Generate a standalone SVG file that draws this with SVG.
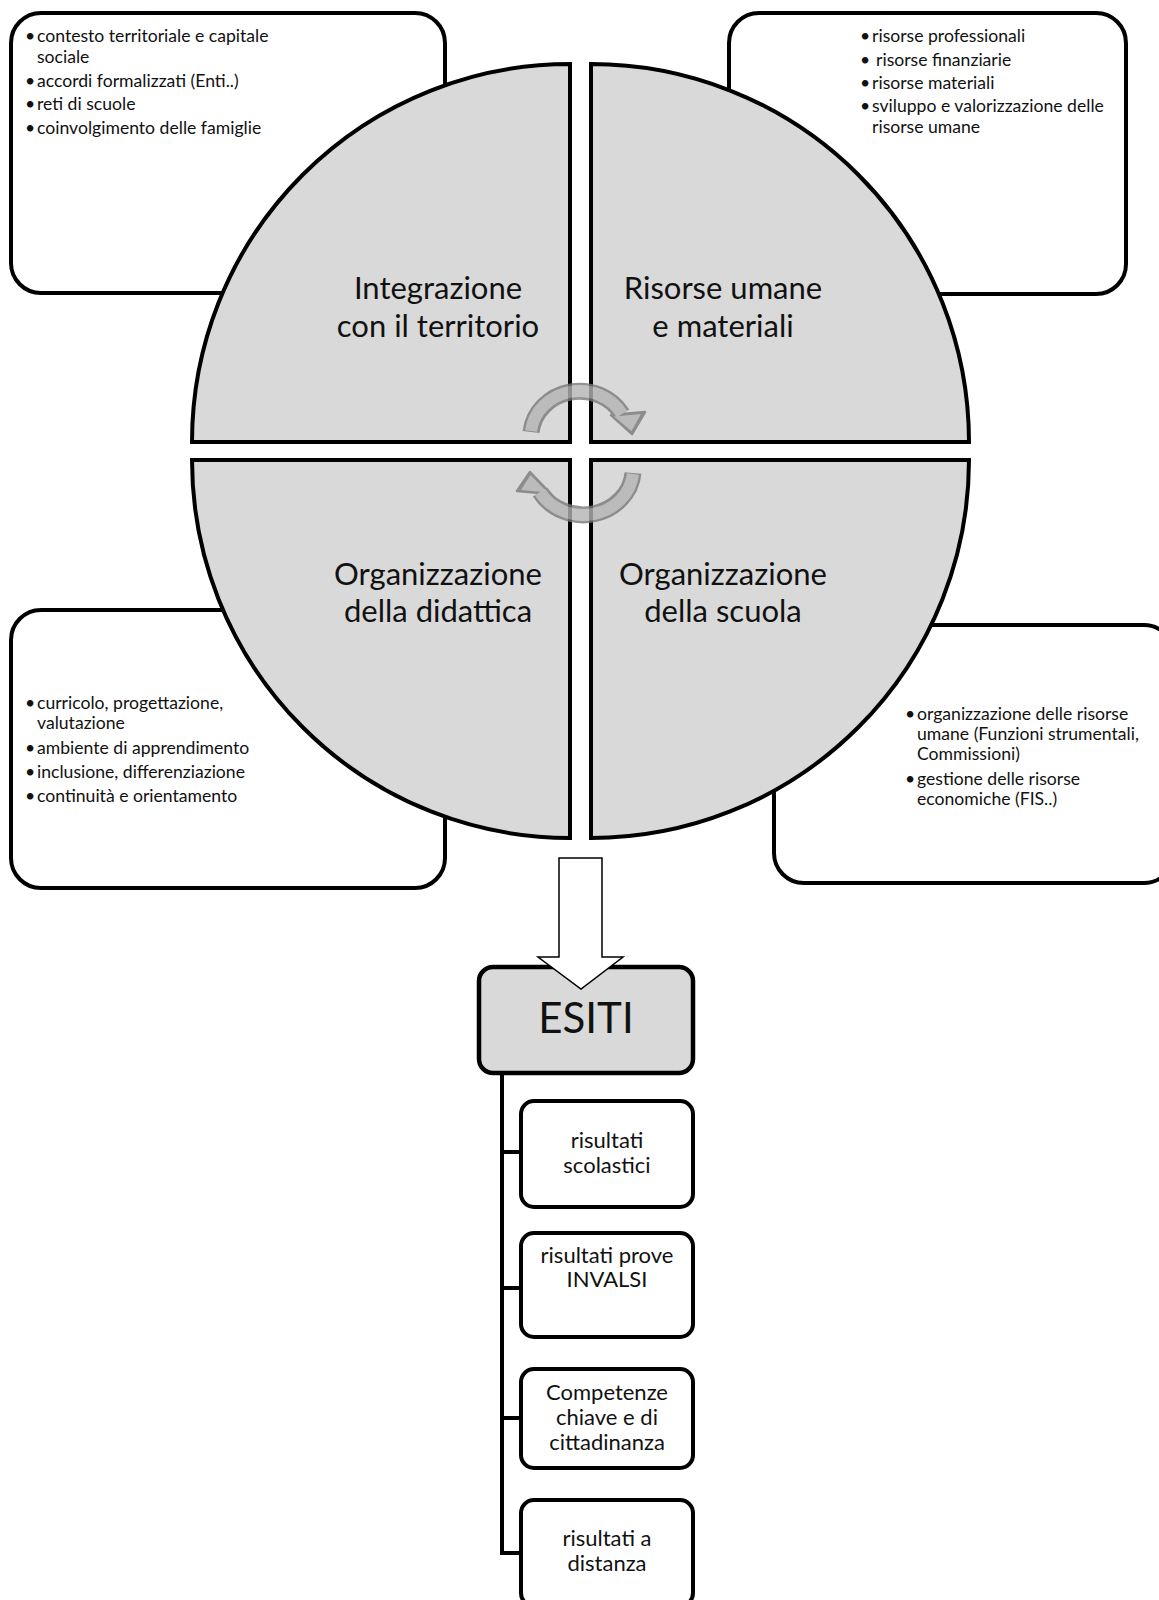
<svg xmlns="http://www.w3.org/2000/svg" width="1159" height="1600" viewBox="0 0 1159 1600">
<style>
.box{fill:#fff;stroke:#000;stroke-width:4}
.quad{fill:#d9d9d9;stroke:#000;stroke-width:4;stroke-linejoin:miter}
.bul{font-family:Lato,"Liberation Sans",sans-serif;font-size:17.6px;fill:#111}
.lab{font-family:Lato,"Liberation Sans",sans-serif;font-size:31px;fill:#111;text-anchor:middle}
.res{font-family:Lato,"Liberation Sans",sans-serif;font-size:22px;fill:#111;text-anchor:middle}
.rbox{fill:#fff;stroke:#000;stroke-width:4}
.conn{fill:none;stroke:#000;stroke-width:4}
</style>
<rect width="1159" height="1600" fill="#fff"/>

<g id="box-territorio">
<rect class="box" x="11" y="13" width="434" height="280" rx="30"/>
<text class="bul"><tspan x="25" y="42">•</tspan><tspan x="37" y="42">contesto territoriale e capitale</tspan><tspan x="37" y="62.5">sociale</tspan><tspan x="25" y="86.5">•</tspan><tspan x="37" y="86.5">accordi formalizzati (Enti..)</tspan><tspan x="25" y="110">•</tspan><tspan x="37" y="110">reti di scuole</tspan><tspan x="25" y="133.5">•</tspan><tspan x="37" y="133.5">coinvolgimento delle famiglie</tspan></text>
</g>

<g id="box-risorse">
<rect class="box" x="729" y="13" width="397" height="281" rx="30"/>
<text class="bul"><tspan x="860" y="42">•</tspan><tspan x="872" y="42">risorse professionali</tspan><tspan x="860" y="66">•</tspan><tspan x="876" y="66">risorse finanziarie</tspan><tspan x="860" y="88.5">•</tspan><tspan x="872" y="88.5">risorse materiali</tspan><tspan x="860" y="112">•</tspan><tspan x="872" y="112">sviluppo e valorizzazione delle</tspan><tspan x="872" y="132.5">risorse umane</tspan></text>
</g>

<g id="box-didattica">
<rect class="box" x="11" y="610" width="434" height="278" rx="30"/>
<text class="bul"><tspan x="25" y="709">•</tspan><tspan x="37" y="709">curricolo, progettazione,</tspan><tspan x="37" y="729">valutazione</tspan><tspan x="25" y="754">•</tspan><tspan x="37" y="754">ambiente di apprendimento</tspan><tspan x="25" y="778">•</tspan><tspan x="37" y="778">inclusione, differenziazione</tspan><tspan x="25" y="802">•</tspan><tspan x="37" y="802">continuità e orientamento</tspan></text>
</g>

<g id="box-scuola">
<rect class="box" x="774" y="625" width="400" height="258" rx="30"/>
<text class="bul"><tspan x="905" y="720">•</tspan><tspan x="917" y="720">organizzazione delle risorse</tspan><tspan x="917" y="740">umane (Funzioni strumentali,</tspan><tspan x="917" y="760">Commissioni)</tspan><tspan x="905" y="785">•</tspan><tspan x="917" y="785">gestione delle risorse</tspan><tspan x="917" y="805">economiche (FIS..)</tspan></text>
</g>

<g id="q-integrazione">
<path class="quad" d="M570 442 L192 442 A378 378 0 0 1 570 64 Z"/>
<text class="lab"><tspan x="438" y="299">Integrazione</tspan><tspan x="438" y="337">con il territorio</tspan></text>
</g>
<g id="q-risorse">
<path class="quad" d="M591 442 L591 64 A378 378 0 0 1 969 442 Z"/>
<text class="lab"><tspan x="723" y="299">Risorse umane</tspan><tspan x="723" y="337">e materiali</tspan></text>
</g>
<g id="q-didattica">
<path class="quad" d="M570 460 L570 838 A378 378 0 0 1 192 460 Z"/>
<text class="lab"><tspan x="438" y="585">Organizzazione</tspan><tspan x="438" y="622">della didattica</tspan></text>
</g>
<g id="q-scuola">
<path class="quad" d="M591 460 L969 460 A378 378 0 0 1 591 838 Z"/>
<text class="lab"><tspan x="723" y="585">Organizzazione</tspan><tspan x="723" y="622">della scuola</tspan></text>
</g>

<g id="cycle-arrows" opacity="0.8">
<path d="M531 432 A49 46 0 0 1 622 414" fill="none" stroke="#7a7a7a" stroke-width="17"/>
<polygon points="611,415 645,412 632,434" fill="#7a7a7a" stroke="#7a7a7a" stroke-width="2.5" stroke-linejoin="round"/>
<path d="M531 431 A49 46 0 0 1 622 414" fill="none" stroke="#b4b4b4" stroke-width="12"/>
<polygon points="614,416.5 641,414 631.5,431" fill="#b4b4b4"/>
<path d="M633 473 A50 46 0 0 1 540 492" fill="none" stroke="#7a7a7a" stroke-width="17"/>
<polygon points="517,491 551,494 530,472" fill="#7a7a7a" stroke="#7a7a7a" stroke-width="2.5" stroke-linejoin="round"/>
<path d="M633 474 A50 46 0 0 1 540 492" fill="none" stroke="#b4b4b4" stroke-width="12"/>
<polygon points="521,490 547.5,492.5 530.5,475" fill="#b4b4b4"/>
</g>

<g id="esiti">
<rect x="479" y="967" width="214" height="106" rx="14" fill="#d9d9d9" stroke="#000" stroke-width="4.5"/>
<text x="586" y="1033" font-family="Lato,'Liberation Sans',sans-serif" font-size="42" fill="#111" text-anchor="middle">ESITI</text>
</g>

<g id="connectors">
<polygon points="559,858 602,858 602,957 623,957 581,989 538,957 559,957" fill="#fff" stroke="#000" stroke-width="1.5"/>
<path class="conn" d="M502 1073 L502 1553 M500 1152 L521 1152 M500 1288 L521 1288 M500 1418 L521 1418 M500 1553 L521 1553"/>
</g>

<g id="r1">
<rect class="rbox" x="521" y="1101" width="172" height="106" rx="13"/>
<text class="res"><tspan x="607" y="1148">risultati</tspan><tspan x="607" y="1173">scolastici</tspan></text>
</g>
<g id="r2">
<rect class="rbox" x="521" y="1233" width="172" height="104" rx="13"/>
<text class="res"><tspan x="607" y="1263">risultati prove</tspan><tspan x="607" y="1287">INVALSI</tspan></text>
</g>
<g id="r3">
<rect class="rbox" x="521" y="1369" width="172" height="99" rx="13"/>
<text class="res"><tspan x="607" y="1400">Competenze</tspan><tspan x="607" y="1425">chiave e di</tspan><tspan x="607" y="1450">cittadinanza</tspan></text>
</g>
<g id="r4">
<rect class="rbox" x="521" y="1500" width="172" height="106" rx="13"/>
<text class="res"><tspan x="607" y="1546">risultati a</tspan><tspan x="607" y="1571">distanza</tspan></text>
</g>
</svg>
